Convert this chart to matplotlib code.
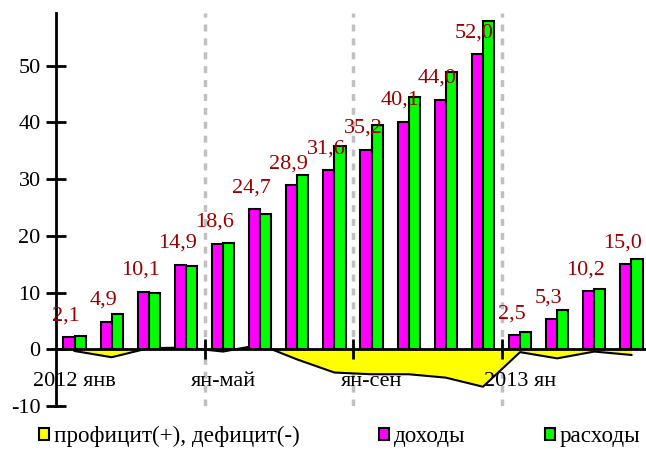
"""
plot.py
    budget revenues / expenditures, cumulative, 2012 - 2013
"""
import matplotlib
matplotlib.use('Agg')
import matplotlib.pyplot as plt
from matplotlib.patches import Patch
import numpy as np

plt.rcParams['font.family'] = ['Liberation Serif', 'DejaVu Serif']
plt.rcParams['axes.unicode_minus'] = False

# data
months = ['2012 янв', 'фев', 'мар', 'апр', 'ян-май', 'июн', 'июл', 'авг',
          'ян-сен', 'окт', 'ноя', 'дек', '2013 ян', 'фев', 'мар', 'апр']
tick_idx = [0, 4, 8, 12]
revenues = [2.1, 4.9, 10.1, 14.9, 18.6, 24.7, 28.9, 31.6,
            35.2, 40.1, 44.0, 52.0, 2.5, 5.3, 10.2, 15.0]
expenses = [2.4, 6.2, 9.9, 14.6, 18.8, 23.9, 30.7, 35.8,
            39.6, 44.5, 48.9, 57.9, 3.0, 6.9, 10.6, 16.0]
balance = [-0.3, -1.4, 0.2, 0.3, -0.4, 0.8, -1.8, -4.1,
           -4.4, -4.4, -5.0, -6.6, -0.5, -1.6, -0.4, -1.0]
rev_labels = ['2,1', '4,9', '10,1', '14,9', '18,6', '24,7', '28,9', '31,6',
              '35,2', '40,1', '44,0', '52,0', '2,5', '5,3', '10,2', '15,0']
names = ['профицит(+), дефицит(-)', 'доходы', 'расходы']

x = np.arange(len(months))
w = 0.3
fs = 16

fig = plt.figure(figsize=(6.46, 4.5), dpi=100)
ax = fig.add_axes([56 / 646, 44 / 450, 594 / 646, 393 / 450])

# deficit area
ax.fill_between(x, balance, 0, color='#FFFF00', lw=0, zorder=1)
ax.plot(x, balance, color='black', lw=1.5, zorder=2)

# bars
ax.bar(x - w / 2, revenues, w, color='#FF00FF', edgecolor='black', lw=1.5, zorder=3)
ax.bar(x + w / 2, expenses, w, color='#00FF00', edgecolor='black', lw=1.5, zorder=3)

for xi, v, t in zip(x, revenues, rev_labels):
    ax.annotate(t, (xi - w / 2, v), xytext=(-3, 12), textcoords='offset pixels',
                ha='center', va='bottom', color='#990000', fontsize=fs, zorder=5)

# dashed separators
for b in [3.5, 7.5, 11.5]:
    ax.axvline(b, color='#c0c0c0', lw=2.5, ls=(0, (2, 2)), zorder=0)

ax.set_xlim(-0.5, 15.5)
ax.set_ylim(-10, 59.3)
ax.spines['top'].set_visible(False)
ax.spines['right'].set_visible(False)
ax.spines['bottom'].set_position(('data', 0))
ax.spines['bottom'].set_linewidth(2)
ax.spines['left'].set_linewidth(2)
ax.spines['bottom'].set_zorder(4)

ax.set_yticks(np.arange(-10, 51, 10))
ax.tick_params(axis='y', direction='inout', length=14, width=2, labelsize=fs, pad=4)
ax.set_xticks([3.5, 7.5, 11.5])
ax.set_xticklabels([])
ax.tick_params(axis='x', which='major', direction='inout', length=15, width=2)
ax.set_xticks(tick_idx, [months[i] for i in tick_idx], minor=True)
ax.tick_params(axis='x', which='minor', length=0, labelsize=fs, pad=16)

handles = [Patch(facecolor='#FFFF00', edgecolor='black', lw=1.5),
           Patch(facecolor='#FF00FF', edgecolor='black', lw=1.5),
           Patch(facecolor='#00FF00', edgecolor='black', lw=1.5)]
fig.legend(handles, names, loc='center', bbox_to_anchor=(0.526, 0.03), ncol=3,
           frameon=False, fontsize=16.7, handlelength=0.42, handleheight=0.42,
           handletextpad=0.2, columnspacing=3.45, borderpad=0)

fig.savefig('out.png', dpi=100)
